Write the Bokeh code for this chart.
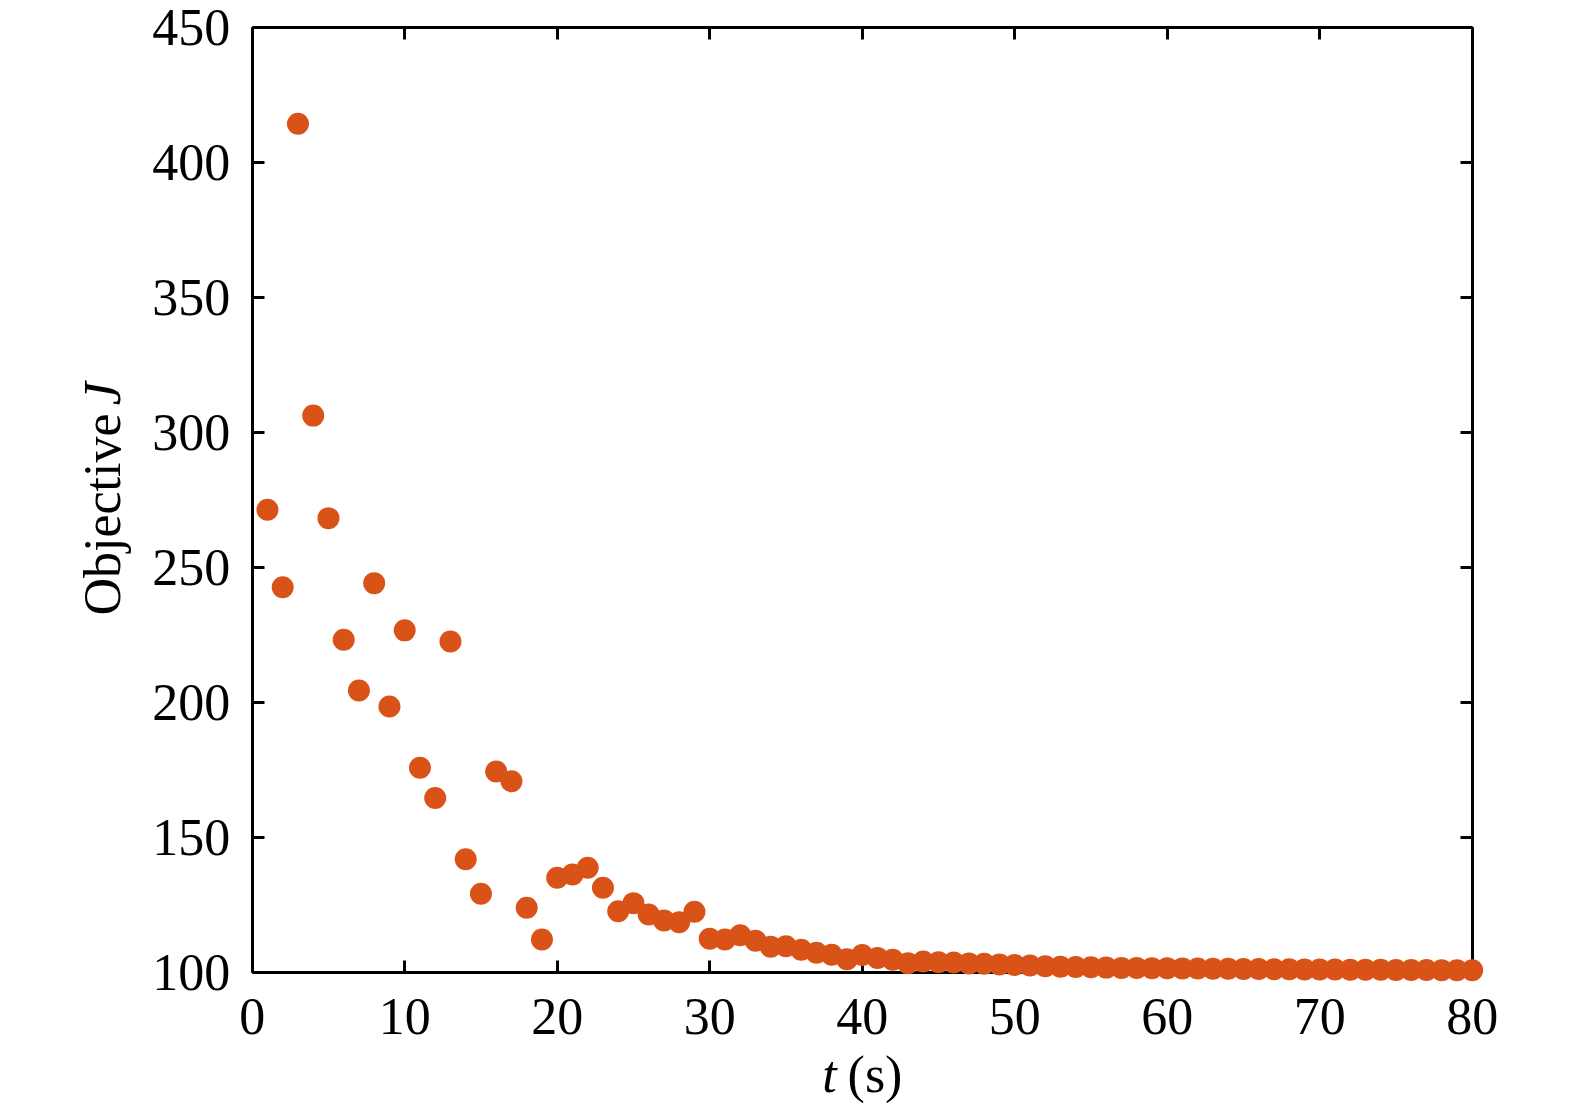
from bokeh.plotting import figure
from bokeh.models import LinearAxis, FixedTicker, Range1d, Label
from bokeh.embed import file_html
from bokeh.resources import INLINE

t_values = list(range(1, 81))
J_values = [271.4, 242.7, 414.5, 306.3, 268.3, 223.2, 204.4, 244.2, 198.5, 226.7,
            175.8, 164.6, 222.6, 141.9, 129.1, 174.4, 170.8, 123.9, 112.1, 135.0,
            136.2, 138.7, 131.3, 122.6, 125.6, 121.4, 119.2, 118.5, 122.4, 112.4,
            112.1, 113.7, 111.7, 109.4, 109.6, 108.3, 107.2, 106.5, 104.8, 106.4,
            105.3, 104.6, 103.3, 104.0, 103.7, 103.6, 103.2, 103.1, 102.9, 102.7,
            102.5, 102.2, 102.0, 101.9, 101.8, 101.7, 101.6, 101.6, 101.5, 101.5,
            101.4, 101.4, 101.3, 101.3, 101.2, 101.2, 101.1, 101.1, 101.0, 101.0,
            101.0, 100.9, 100.9, 100.9, 100.8, 100.8, 100.8, 100.7, 100.7, 100.7]
x_ticks = [0, 10, 20, 30, 40, 50, 60, 70, 80]
y_ticks = [100, 150, 200, 250, 300, 350, 400, 450]
x_label_var = "t"
x_label_rest = "(s)"
y_label_main = "Objective"
y_label_var = "J"

FONT = "Liberation Serif"
FS = "52px"
COLOR = "#D95319"

# pixel geometry of the axes box inside a frame that covers the whole canvas
W, H = 1560, 1104
X0, PX = 251.7, 15.25      # pixel of t=0, pixels per unit
Y0, PY = 971.7, 2.698      # pixel of J=100, pixels per unit
x_start = (0 - X0) / PX
x_end = (W - X0) / PX
y_end = 100 + Y0 / PY
y_start = 100 + (Y0 - H) / PY

p = figure(frame_width=W, frame_height=H,
           x_range=Range1d(x_start, x_end), y_range=Range1d(y_start, y_end),
           x_axis_location=None, y_axis_location=None,
           output_backend="svg", toolbar_location=None,
           min_border=0)
p.outline_line_color = None
p.background_fill_color = "white"
p.border_fill_color = "white"
p.xgrid.grid_line_color = None
p.ygrid.grid_line_color = None


def style(ax, labels=True):
    ax.axis_line_width = 3
    ax.axis_line_color = "black"
    ax.major_tick_line_width = 3
    ax.major_tick_line_color = "black"
    ax.major_tick_in = 12
    ax.major_tick_out = 0
    ax.minor_tick_line_color = None
    ax.major_label_text_font = FONT
    ax.major_label_text_color = "black"
    if labels:
        ax.major_label_text_font_size = FS
    else:
        ax.major_label_text_font_size = "0px"
        ax.major_label_standoff = 0


left = LinearAxis(ticker=FixedTicker(ticks=y_ticks), bounds=(100, 450), fixed_location=0)
style(left)
left.major_label_standoff = 22
p.add_layout(left, "left")

bottom = LinearAxis(ticker=FixedTicker(ticks=x_ticks), bounds=(0, 80), fixed_location=100)
style(bottom)
bottom.major_label_standoff = 27
p.add_layout(bottom, "below")

top = LinearAxis(ticker=FixedTicker(ticks=x_ticks), bounds=(0, 80), fixed_location=450,
                 major_label_overrides={v: "" for v in x_ticks})
style(top, labels=False)
p.add_layout(top, "above")

right = LinearAxis(ticker=FixedTicker(ticks=y_ticks), bounds=(100, 450), fixed_location=80,
                   major_label_overrides={v: "" for v in y_ticks})
style(right, labels=False)
p.add_layout(right, "right")

p.scatter(t_values, J_values, size=22, fill_color=COLOR, line_color=None, level="overlay")

p.add_layout(Label(x=38.33, y=62.1, text=x_label_var, text_font=FONT, text_font_size=FS,
                   text_font_style="italic", text_align="right", text_baseline="alphabetic",
                   text_color="black"))
p.add_layout(Label(x=39.04, y=62.1, text=x_label_rest, text_font=FONT, text_font_size=FS,
                   text_align="left", text_baseline="alphabetic", text_color="black"))
p.add_layout(Label(x=-9.82, y=307.1, text=y_label_main, text_font=FONT, text_font_size=FS,
                   angle=1.5707963, text_align="right", text_baseline="alphabetic",
                   text_color="black"))
p.add_layout(Label(x=-9.82, y=310.1, text=y_label_var, text_font=FONT, text_font_size=FS,
                   text_font_style="italic", angle=1.5707963, text_align="left",
                   text_baseline="alphabetic", text_color="black"))

open("out.html", "w").write(file_html(p, INLINE))
